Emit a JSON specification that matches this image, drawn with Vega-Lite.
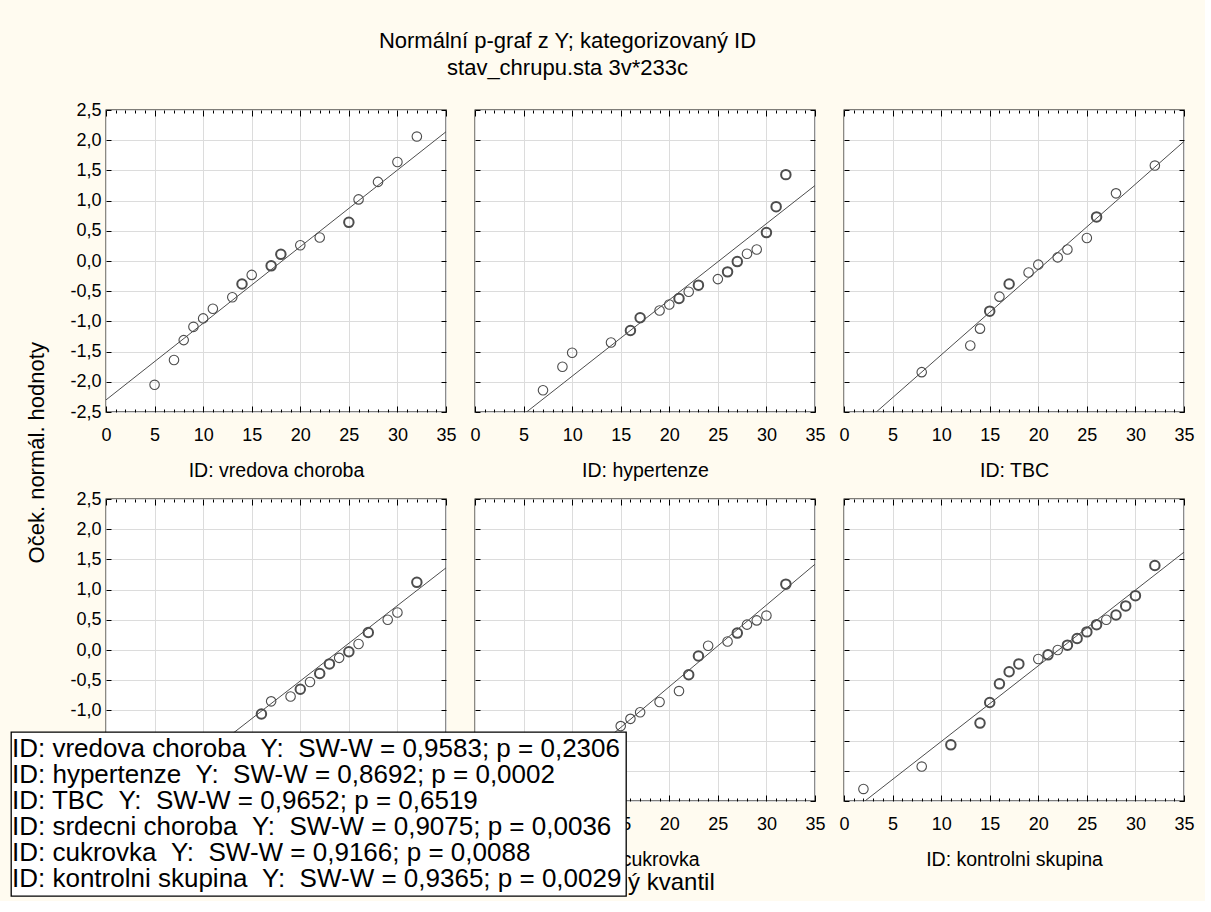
{
  "$schema": "https://vega.github.io/schema/vega-lite/v6.json",
  "background": "#fffbf0",
  "padding": {"left": 10, "top": 30, "right": 10, "bottom": 4},
  "title": {"text": ["Normální p-graf z Y; kategorizovaný ID", "stav_chrupu.sta 3v*233c"], "fontSize": 22, "font": "Liberation Sans", "fontWeight": "normal", "color": "black", "anchor": "middle", "frame": "bounds", "dx": -35, "offset": 20, "lineHeight": 27},
  "datasets": {
    "stats": [
      {"ID": "vredova choroba", "ord": 1, "label": "ID: vredova choroba\u00a0\u00a0Y:\u00a0\u00a0SW-W = 0,9583; p = 0,2306"},
      {"ID": "hypertenze", "ord": 2, "label": "ID: hypertenze\u00a0\u00a0Y:\u00a0\u00a0SW-W = 0,8692; p = 0,0002"},
      {"ID": "TBC", "ord": 3, "label": "ID: TBC\u00a0\u00a0Y:\u00a0\u00a0SW-W = 0,9652; p = 0,6519"},
      {"ID": "srdecni choroba", "ord": 4, "label": "ID: srdecni choroba\u00a0\u00a0Y:\u00a0\u00a0SW-W = 0,9075; p = 0,0036"},
      {"ID": "cukrovka", "ord": 5, "label": "ID: cukrovka\u00a0\u00a0Y:\u00a0\u00a0SW-W = 0,9166; p = 0,0088"},
      {"ID": "kontrolni skupina", "ord": 6, "label": "ID: kontrolni skupina\u00a0\u00a0Y:\u00a0\u00a0SW-W = 0,9365; p = 0,0029"}
    ],
    "all": [
      {"ID": "vredova choroba", "kind": "fit", "x": 0, "y": -2.30},
      {"ID": "vredova choroba", "kind": "fit", "x": 35, "y": 2.14},
      {"ID": "vredova choroba", "kind": "pt", "x": 5, "y": -2.05, "n": 1},
      {"ID": "vredova choroba", "kind": "pt", "x": 7, "y": -1.64, "n": 1},
      {"ID": "vredova choroba", "kind": "pt", "x": 8, "y": -1.31, "n": 1},
      {"ID": "vredova choroba", "kind": "pt", "x": 9, "y": -1.09, "n": 1},
      {"ID": "vredova choroba", "kind": "pt", "x": 10, "y": -0.95, "n": 1},
      {"ID": "vredova choroba", "kind": "pt", "x": 11, "y": -0.79, "n": 1},
      {"ID": "vredova choroba", "kind": "pt", "x": 13, "y": -0.60, "n": 1},
      {"ID": "vredova choroba", "kind": "pt", "x": 14, "y": -0.38, "n": 2},
      {"ID": "vredova choroba", "kind": "pt", "x": 15, "y": -0.23, "n": 1},
      {"ID": "vredova choroba", "kind": "pt", "x": 17, "y": -0.08, "n": 2},
      {"ID": "vredova choroba", "kind": "pt", "x": 18, "y": 0.11, "n": 2},
      {"ID": "vredova choroba", "kind": "pt", "x": 20, "y": 0.26, "n": 1},
      {"ID": "vredova choroba", "kind": "pt", "x": 22, "y": 0.39, "n": 1},
      {"ID": "vredova choroba", "kind": "pt", "x": 25, "y": 0.64, "n": 2},
      {"ID": "vredova choroba", "kind": "pt", "x": 26, "y": 1.02, "n": 1},
      {"ID": "vredova choroba", "kind": "pt", "x": 28, "y": 1.31, "n": 1},
      {"ID": "vredova choroba", "kind": "pt", "x": 30, "y": 1.64, "n": 1},
      {"ID": "vredova choroba", "kind": "pt", "x": 32, "y": 2.06, "n": 1},
      {"ID": "hypertenze", "kind": "fit", "x": 0, "y": -3.17},
      {"ID": "hypertenze", "kind": "fit", "x": 35, "y": 1.25},
      {"ID": "hypertenze", "kind": "pt", "x": 7, "y": -2.14, "n": 1},
      {"ID": "hypertenze", "kind": "pt", "x": 9, "y": -1.75, "n": 1},
      {"ID": "hypertenze", "kind": "pt", "x": 10, "y": -1.52, "n": 1},
      {"ID": "hypertenze", "kind": "pt", "x": 14, "y": -1.35, "n": 1},
      {"ID": "hypertenze", "kind": "pt", "x": 16, "y": -1.15, "n": 2},
      {"ID": "hypertenze", "kind": "pt", "x": 17, "y": -0.94, "n": 2},
      {"ID": "hypertenze", "kind": "pt", "x": 19, "y": -0.82, "n": 1},
      {"ID": "hypertenze", "kind": "pt", "x": 20, "y": -0.72, "n": 1},
      {"ID": "hypertenze", "kind": "pt", "x": 21, "y": -0.62, "n": 2},
      {"ID": "hypertenze", "kind": "pt", "x": 22, "y": -0.51, "n": 1},
      {"ID": "hypertenze", "kind": "pt", "x": 23, "y": -0.40, "n": 2},
      {"ID": "hypertenze", "kind": "pt", "x": 25, "y": -0.30, "n": 1},
      {"ID": "hypertenze", "kind": "pt", "x": 26, "y": -0.18, "n": 2},
      {"ID": "hypertenze", "kind": "pt", "x": 27, "y": -0.01, "n": 2},
      {"ID": "hypertenze", "kind": "pt", "x": 28, "y": 0.12, "n": 1},
      {"ID": "hypertenze", "kind": "pt", "x": 29, "y": 0.19, "n": 1},
      {"ID": "hypertenze", "kind": "pt", "x": 30, "y": 0.47, "n": 2},
      {"ID": "hypertenze", "kind": "pt", "x": 31, "y": 0.90, "n": 2},
      {"ID": "hypertenze", "kind": "pt", "x": 32, "y": 1.43, "n": 2},
      {"ID": "TBC", "kind": "fit", "x": 0, "y": -2.97},
      {"ID": "TBC", "kind": "fit", "x": 35, "y": 1.98},
      {"ID": "TBC", "kind": "pt", "x": 8, "y": -1.84, "n": 1},
      {"ID": "TBC", "kind": "pt", "x": 13, "y": -1.40, "n": 1},
      {"ID": "TBC", "kind": "pt", "x": 14, "y": -1.12, "n": 1},
      {"ID": "TBC", "kind": "pt", "x": 15, "y": -0.83, "n": 2},
      {"ID": "TBC", "kind": "pt", "x": 16, "y": -0.59, "n": 1},
      {"ID": "TBC", "kind": "pt", "x": 17, "y": -0.38, "n": 2},
      {"ID": "TBC", "kind": "pt", "x": 19, "y": -0.19, "n": 1},
      {"ID": "TBC", "kind": "pt", "x": 20, "y": -0.06, "n": 1},
      {"ID": "TBC", "kind": "pt", "x": 22, "y": 0.06, "n": 1},
      {"ID": "TBC", "kind": "pt", "x": 23, "y": 0.19, "n": 1},
      {"ID": "TBC", "kind": "pt", "x": 25, "y": 0.38, "n": 1},
      {"ID": "TBC", "kind": "pt", "x": 26, "y": 0.73, "n": 2},
      {"ID": "TBC", "kind": "pt", "x": 28, "y": 1.12, "n": 1},
      {"ID": "TBC", "kind": "pt", "x": 32, "y": 1.58, "n": 1},
      {"ID": "srdecni choroba", "kind": "fit", "x": 0, "y": -3.01},
      {"ID": "srdecni choroba", "kind": "fit", "x": 35, "y": 1.36},
      {"ID": "srdecni choroba", "kind": "pt", "x": 16, "y": -1.06, "n": 2},
      {"ID": "srdecni choroba", "kind": "pt", "x": 17, "y": -0.85, "n": 1},
      {"ID": "srdecni choroba", "kind": "pt", "x": 19, "y": -0.77, "n": 1},
      {"ID": "srdecni choroba", "kind": "pt", "x": 20, "y": -0.65, "n": 2},
      {"ID": "srdecni choroba", "kind": "pt", "x": 21, "y": -0.53, "n": 1},
      {"ID": "srdecni choroba", "kind": "pt", "x": 22, "y": -0.39, "n": 2},
      {"ID": "srdecni choroba", "kind": "pt", "x": 23, "y": -0.23, "n": 2},
      {"ID": "srdecni choroba", "kind": "pt", "x": 24, "y": -0.13, "n": 1},
      {"ID": "srdecni choroba", "kind": "pt", "x": 25, "y": -0.03, "n": 2},
      {"ID": "srdecni choroba", "kind": "pt", "x": 26, "y": 0.10, "n": 1},
      {"ID": "srdecni choroba", "kind": "pt", "x": 27, "y": 0.29, "n": 2},
      {"ID": "srdecni choroba", "kind": "pt", "x": 29, "y": 0.50, "n": 1},
      {"ID": "srdecni choroba", "kind": "pt", "x": 30, "y": 0.62, "n": 1},
      {"ID": "srdecni choroba", "kind": "pt", "x": 32, "y": 1.12, "n": 2},
      {"ID": "cukrovka", "kind": "fit", "x": 0, "y": -3.31},
      {"ID": "cukrovka", "kind": "fit", "x": 35, "y": 1.42},
      {"ID": "cukrovka", "kind": "pt", "x": 15, "y": -1.26, "n": 1},
      {"ID": "cukrovka", "kind": "pt", "x": 16, "y": -1.14, "n": 1},
      {"ID": "cukrovka", "kind": "pt", "x": 17, "y": -1.03, "n": 1},
      {"ID": "cukrovka", "kind": "pt", "x": 19, "y": -0.86, "n": 1},
      {"ID": "cukrovka", "kind": "pt", "x": 21, "y": -0.68, "n": 1},
      {"ID": "cukrovka", "kind": "pt", "x": 22, "y": -0.41, "n": 2},
      {"ID": "cukrovka", "kind": "pt", "x": 23, "y": -0.10, "n": 2},
      {"ID": "cukrovka", "kind": "pt", "x": 24, "y": 0.07, "n": 1},
      {"ID": "cukrovka", "kind": "pt", "x": 26, "y": 0.14, "n": 1},
      {"ID": "cukrovka", "kind": "pt", "x": 27, "y": 0.28, "n": 2},
      {"ID": "cukrovka", "kind": "pt", "x": 28, "y": 0.42, "n": 1},
      {"ID": "cukrovka", "kind": "pt", "x": 29, "y": 0.49, "n": 1},
      {"ID": "cukrovka", "kind": "pt", "x": 30, "y": 0.57, "n": 1},
      {"ID": "cukrovka", "kind": "pt", "x": 32, "y": 1.09, "n": 2},
      {"ID": "kontrolni skupina", "kind": "fit", "x": 0, "y": -2.77},
      {"ID": "kontrolni skupina", "kind": "fit", "x": 35, "y": 1.62},
      {"ID": "kontrolni skupina", "kind": "pt", "x": 2, "y": -2.30, "n": 1},
      {"ID": "kontrolni skupina", "kind": "pt", "x": 8, "y": -1.93, "n": 1},
      {"ID": "kontrolni skupina", "kind": "pt", "x": 11, "y": -1.57, "n": 2},
      {"ID": "kontrolni skupina", "kind": "pt", "x": 14, "y": -1.21, "n": 2},
      {"ID": "kontrolni skupina", "kind": "pt", "x": 15, "y": -0.87, "n": 2},
      {"ID": "kontrolni skupina", "kind": "pt", "x": 16, "y": -0.56, "n": 2},
      {"ID": "kontrolni skupina", "kind": "pt", "x": 17, "y": -0.36, "n": 2},
      {"ID": "kontrolni skupina", "kind": "pt", "x": 18, "y": -0.23, "n": 2},
      {"ID": "kontrolni skupina", "kind": "pt", "x": 20, "y": -0.15, "n": 1},
      {"ID": "kontrolni skupina", "kind": "pt", "x": 21, "y": -0.08, "n": 2},
      {"ID": "kontrolni skupina", "kind": "pt", "x": 22, "y": 0.00, "n": 1},
      {"ID": "kontrolni skupina", "kind": "pt", "x": 23, "y": 0.08, "n": 2},
      {"ID": "kontrolni skupina", "kind": "pt", "x": 24, "y": 0.19, "n": 2},
      {"ID": "kontrolni skupina", "kind": "pt", "x": 25, "y": 0.30, "n": 2},
      {"ID": "kontrolni skupina", "kind": "pt", "x": 26, "y": 0.42, "n": 2},
      {"ID": "kontrolni skupina", "kind": "pt", "x": 27, "y": 0.50, "n": 1},
      {"ID": "kontrolni skupina", "kind": "pt", "x": 28, "y": 0.58, "n": 2},
      {"ID": "kontrolni skupina", "kind": "pt", "x": 29, "y": 0.73, "n": 2},
      {"ID": "kontrolni skupina", "kind": "pt", "x": 30, "y": 0.90, "n": 2},
      {"ID": "kontrolni skupina", "kind": "pt", "x": 32, "y": 1.40, "n": 2}
    ]
  },
  "data": {"name": "all"},
  "vconcat": [
    {
      "title": {"text": "Oček. normál. hodnoty", "orient": "left", "fontSize": 22, "font": "Liberation Sans", "fontWeight": "normal", "color": "black", "anchor": "middle", "offset": 20, "dx": 45},
      "vconcat": [
        {
          "title": {"text": "Pozorovaný kvantil", "orient": "bottom", "fontSize": 24, "font": "Liberation Sans", "fontWeight": "normal", "color": "black", "anchor": "middle", "offset": 2, "dx": -18},
          "columns": 3,
          "bounds": "flush",
          "spacing": {"column": 29, "row": 87},
          "concat": [
            {
              "width": 340, "height": 302,
              "transform": [{"filter": "datum.ID === 'vredova choroba'"}],
              "layer": [
                {"transform": [{"filter": "datum.kind === 'fit'"}],
                 "mark": {"type": "line", "clip": true, "color": "#4d4d4d", "strokeWidth": 1},
                 "encoding": {
                   "x": {"field": "x", "type": "quantitative", "scale": {"domain": [0, 35], "nice": false, "zero": false},
                         "axis": {"orient": "bottom", "title": "ID: vredova choroba", "titlePadding": 14, "values": [0,1,2,3,4,5,6,7,8,9,10,11,12,13,14,15,16,17,18,19,20,21,22,23,24,25,26,27,28,29,30,31,32,33,34,35], "labelExpr": "datum.value % 5 === 0 ? datum.label : ''", "labelPadding": 20, "tickSize": {"condition": {"test": "datum.value % 5 === 0", "value": -6}, "value": -3}, "grid": true, "gridOpacity": {"condition": {"test": "datum.value % 5 === 0", "value": 1}, "value": 0}}},
                   "y": {"field": "y", "type": "quantitative", "scale": {"domain": [-2.5, 2.5], "nice": false, "zero": false},
                         "axis": {"orient": "left", "title": null, "values": [-2.5,-2,-1.5,-1,-0.5,0,0.5,1,1.5,2,2.5], "labelExpr": "replace(replace(format(datum.value,'.1f'),'.',','),'\u2212','-')", "labelPadding": 10, "tickSize": -5, "grid": true}}
                 }},
                {"transform": [{"filter": "datum.kind === 'pt'"}, {"lookup": "ID", "from": {"data": {"name": "stats"}, "key": "ID", "fields": ["label", "ord"]}}],
                 "mark": {"type": "point", "shape": "circle", "filled": false, "size": 90, "opacity": 1},
                 "encoding": {
                   "x": {"field": "x", "type": "quantitative", "axis": {"orient": "top", "title": null, "labels": false, "grid": false, "values": [0,1,2,3,4,5,6,7,8,9,10,11,12,13,14,15,16,17,18,19,20,21,22,23,24,25,26,27,28,29,30,31,32,33,34,35], "tickSize": {"condition": {"test": "datum.value % 5 === 0", "value": -6}, "value": -3}}},
                   "y": {"field": "y", "type": "quantitative", "axis": {"orient": "right", "title": null, "labels": false, "grid": false, "values": [-2.5,-2,-1.5,-1,-0.5,0,0.5,1,1.5,2,2.5], "tickSize": -5}},
                   "color": {"field": "label", "type": "nominal", "sort": {"field": "ord", "op": "min"}, "scale": {"range": ["#4d4d4d","#4d4d4d","#4d4d4d","#4d4d4d","#4d4d4d","#4d4d4d"]}, "legend": {"title": null}},
                   "strokeWidth": {"field": "n", "type": "quantitative", "scale": {"domain": [1, 2], "range": [1.1, 2]}, "legend": null}
                 }}
              ]
            },
            {
              "width": 340, "height": 302,
              "transform": [{"filter": "datum.ID === 'hypertenze'"}],
              "layer": [
                {"transform": [{"filter": "datum.kind === 'fit'"}],
                 "mark": {"type": "line", "clip": true, "color": "#4d4d4d", "strokeWidth": 1},
                 "encoding": {
                   "x": {"field": "x", "type": "quantitative", "scale": {"domain": [0, 35], "nice": false, "zero": false},
                         "axis": {"orient": "bottom", "title": "ID: hypertenze", "titlePadding": 14, "values": [0,1,2,3,4,5,6,7,8,9,10,11,12,13,14,15,16,17,18,19,20,21,22,23,24,25,26,27,28,29,30,31,32,33,34,35], "labelExpr": "datum.value % 5 === 0 ? datum.label : ''", "labelPadding": 20, "tickSize": {"condition": {"test": "datum.value % 5 === 0", "value": -6}, "value": -3}, "grid": true, "gridOpacity": {"condition": {"test": "datum.value % 5 === 0", "value": 1}, "value": 0}}},
                   "y": {"field": "y", "type": "quantitative", "scale": {"domain": [-2.5, 2.5], "nice": false, "zero": false},
                         "axis": {"orient": "left", "title": null, "labels": false, "values": [-2.5,-2,-1.5,-1,-0.5,0,0.5,1,1.5,2,2.5], "tickSize": -5, "grid": true}}
                 }},
                {"transform": [{"filter": "datum.kind === 'pt'"}, {"lookup": "ID", "from": {"data": {"name": "stats"}, "key": "ID", "fields": ["label", "ord"]}}],
                 "mark": {"type": "point", "shape": "circle", "filled": false, "size": 90, "opacity": 1},
                 "encoding": {
                   "x": {"field": "x", "type": "quantitative", "axis": {"orient": "top", "title": null, "labels": false, "grid": false, "values": [0,1,2,3,4,5,6,7,8,9,10,11,12,13,14,15,16,17,18,19,20,21,22,23,24,25,26,27,28,29,30,31,32,33,34,35], "tickSize": {"condition": {"test": "datum.value % 5 === 0", "value": -6}, "value": -3}}},
                   "y": {"field": "y", "type": "quantitative", "axis": {"orient": "right", "title": null, "labels": false, "grid": false, "values": [-2.5,-2,-1.5,-1,-0.5,0,0.5,1,1.5,2,2.5], "tickSize": -5}},
                   "color": {"field": "label", "type": "nominal", "sort": {"field": "ord", "op": "min"}, "scale": {"range": ["#4d4d4d","#4d4d4d","#4d4d4d","#4d4d4d","#4d4d4d","#4d4d4d"]}, "legend": {"title": null}},
                   "strokeWidth": {"field": "n", "type": "quantitative", "scale": {"domain": [1, 2], "range": [1.1, 2]}, "legend": null}
                 }}
              ]
            },
            {
              "width": 340, "height": 302,
              "transform": [{"filter": "datum.ID === 'TBC'"}],
              "layer": [
                {"transform": [{"filter": "datum.kind === 'fit'"}],
                 "mark": {"type": "line", "clip": true, "color": "#4d4d4d", "strokeWidth": 1},
                 "encoding": {
                   "x": {"field": "x", "type": "quantitative", "scale": {"domain": [0, 35], "nice": false, "zero": false},
                         "axis": {"orient": "bottom", "title": "ID: TBC", "titlePadding": 14, "values": [0,1,2,3,4,5,6,7,8,9,10,11,12,13,14,15,16,17,18,19,20,21,22,23,24,25,26,27,28,29,30,31,32,33,34,35], "labelExpr": "datum.value % 5 === 0 ? datum.label : ''", "labelPadding": 20, "tickSize": {"condition": {"test": "datum.value % 5 === 0", "value": -6}, "value": -3}, "grid": true, "gridOpacity": {"condition": {"test": "datum.value % 5 === 0", "value": 1}, "value": 0}}},
                   "y": {"field": "y", "type": "quantitative", "scale": {"domain": [-2.5, 2.5], "nice": false, "zero": false},
                         "axis": {"orient": "left", "title": null, "labels": false, "values": [-2.5,-2,-1.5,-1,-0.5,0,0.5,1,1.5,2,2.5], "tickSize": -5, "grid": true}}
                 }},
                {"transform": [{"filter": "datum.kind === 'pt'"}, {"lookup": "ID", "from": {"data": {"name": "stats"}, "key": "ID", "fields": ["label", "ord"]}}],
                 "mark": {"type": "point", "shape": "circle", "filled": false, "size": 90, "opacity": 1},
                 "encoding": {
                   "x": {"field": "x", "type": "quantitative", "axis": {"orient": "top", "title": null, "labels": false, "grid": false, "values": [0,1,2,3,4,5,6,7,8,9,10,11,12,13,14,15,16,17,18,19,20,21,22,23,24,25,26,27,28,29,30,31,32,33,34,35], "tickSize": {"condition": {"test": "datum.value % 5 === 0", "value": -6}, "value": -3}}},
                   "y": {"field": "y", "type": "quantitative", "axis": {"orient": "right", "title": null, "labels": false, "grid": false, "values": [-2.5,-2,-1.5,-1,-0.5,0,0.5,1,1.5,2,2.5], "tickSize": -5}},
                   "color": {"field": "label", "type": "nominal", "sort": {"field": "ord", "op": "min"}, "scale": {"range": ["#4d4d4d","#4d4d4d","#4d4d4d","#4d4d4d","#4d4d4d","#4d4d4d"]}, "legend": {"title": null}},
                   "strokeWidth": {"field": "n", "type": "quantitative", "scale": {"domain": [1, 2], "range": [1.1, 2]}, "legend": null}
                 }}
              ]
            },
            {
              "width": 340, "height": 302,
              "transform": [{"filter": "datum.ID === 'srdecni choroba'"}],
              "layer": [
                {"transform": [{"filter": "datum.kind === 'fit'"}],
                 "mark": {"type": "line", "clip": true, "color": "#4d4d4d", "strokeWidth": 1},
                 "encoding": {
                   "x": {"field": "x", "type": "quantitative", "scale": {"domain": [0, 35], "nice": false, "zero": false},
                         "axis": {"orient": "bottom", "title": "ID: srdecni choroba", "titlePadding": 14, "values": [0,1,2,3,4,5,6,7,8,9,10,11,12,13,14,15,16,17,18,19,20,21,22,23,24,25,26,27,28,29,30,31,32,33,34,35], "labelExpr": "datum.value % 5 === 0 ? datum.label : ''", "labelPadding": 20, "tickSize": {"condition": {"test": "datum.value % 5 === 0", "value": -6}, "value": -3}, "grid": true, "gridOpacity": {"condition": {"test": "datum.value % 5 === 0", "value": 1}, "value": 0}}},
                   "y": {"field": "y", "type": "quantitative", "scale": {"domain": [-2.5, 2.5], "nice": false, "zero": false},
                         "axis": {"orient": "left", "title": null, "values": [-2.5,-2,-1.5,-1,-0.5,0,0.5,1,1.5,2,2.5], "labelExpr": "replace(replace(format(datum.value,'.1f'),'.',','),'\u2212','-')", "labelPadding": 10, "tickSize": -5, "grid": true}}
                 }},
                {"transform": [{"filter": "datum.kind === 'pt'"}, {"lookup": "ID", "from": {"data": {"name": "stats"}, "key": "ID", "fields": ["label", "ord"]}}],
                 "mark": {"type": "point", "shape": "circle", "filled": false, "size": 90, "opacity": 1},
                 "encoding": {
                   "x": {"field": "x", "type": "quantitative", "axis": {"orient": "top", "title": null, "labels": false, "grid": false, "values": [0,1,2,3,4,5,6,7,8,9,10,11,12,13,14,15,16,17,18,19,20,21,22,23,24,25,26,27,28,29,30,31,32,33,34,35], "tickSize": {"condition": {"test": "datum.value % 5 === 0", "value": -6}, "value": -3}}},
                   "y": {"field": "y", "type": "quantitative", "axis": {"orient": "right", "title": null, "labels": false, "grid": false, "values": [-2.5,-2,-1.5,-1,-0.5,0,0.5,1,1.5,2,2.5], "tickSize": -5}},
                   "color": {"field": "label", "type": "nominal", "sort": {"field": "ord", "op": "min"}, "scale": {"range": ["#4d4d4d","#4d4d4d","#4d4d4d","#4d4d4d","#4d4d4d","#4d4d4d"]}, "legend": {"title": null}},
                   "strokeWidth": {"field": "n", "type": "quantitative", "scale": {"domain": [1, 2], "range": [1.1, 2]}, "legend": null}
                 }}
              ]
            },
            {
              "width": 340, "height": 302,
              "transform": [{"filter": "datum.ID === 'cukrovka'"}],
              "layer": [
                {"transform": [{"filter": "datum.kind === 'fit'"}],
                 "mark": {"type": "line", "clip": true, "color": "#4d4d4d", "strokeWidth": 1},
                 "encoding": {
                   "x": {"field": "x", "type": "quantitative", "scale": {"domain": [0, 35], "nice": false, "zero": false},
                         "axis": {"orient": "bottom", "title": "ID: cukrovka", "titlePadding": 14, "values": [0,1,2,3,4,5,6,7,8,9,10,11,12,13,14,15,16,17,18,19,20,21,22,23,24,25,26,27,28,29,30,31,32,33,34,35], "labelExpr": "datum.value % 5 === 0 ? datum.label : ''", "labelPadding": 20, "tickSize": {"condition": {"test": "datum.value % 5 === 0", "value": -6}, "value": -3}, "grid": true, "gridOpacity": {"condition": {"test": "datum.value % 5 === 0", "value": 1}, "value": 0}}},
                   "y": {"field": "y", "type": "quantitative", "scale": {"domain": [-2.5, 2.5], "nice": false, "zero": false},
                         "axis": {"orient": "left", "title": null, "labels": false, "values": [-2.5,-2,-1.5,-1,-0.5,0,0.5,1,1.5,2,2.5], "tickSize": -5, "grid": true}}
                 }},
                {"transform": [{"filter": "datum.kind === 'pt'"}, {"lookup": "ID", "from": {"data": {"name": "stats"}, "key": "ID", "fields": ["label", "ord"]}}],
                 "mark": {"type": "point", "shape": "circle", "filled": false, "size": 90, "opacity": 1},
                 "encoding": {
                   "x": {"field": "x", "type": "quantitative", "axis": {"orient": "top", "title": null, "labels": false, "grid": false, "values": [0,1,2,3,4,5,6,7,8,9,10,11,12,13,14,15,16,17,18,19,20,21,22,23,24,25,26,27,28,29,30,31,32,33,34,35], "tickSize": {"condition": {"test": "datum.value % 5 === 0", "value": -6}, "value": -3}}},
                   "y": {"field": "y", "type": "quantitative", "axis": {"orient": "right", "title": null, "labels": false, "grid": false, "values": [-2.5,-2,-1.5,-1,-0.5,0,0.5,1,1.5,2,2.5], "tickSize": -5}},
                   "color": {"field": "label", "type": "nominal", "sort": {"field": "ord", "op": "min"}, "scale": {"range": ["#4d4d4d","#4d4d4d","#4d4d4d","#4d4d4d","#4d4d4d","#4d4d4d"]}, "legend": {"title": null}},
                   "strokeWidth": {"field": "n", "type": "quantitative", "scale": {"domain": [1, 2], "range": [1.1, 2]}, "legend": null}
                 }}
              ]
            },
            {
              "width": 340, "height": 302,
              "transform": [{"filter": "datum.ID === 'kontrolni skupina'"}],
              "layer": [
                {"transform": [{"filter": "datum.kind === 'fit'"}],
                 "mark": {"type": "line", "clip": true, "color": "#4d4d4d", "strokeWidth": 1},
                 "encoding": {
                   "x": {"field": "x", "type": "quantitative", "scale": {"domain": [0, 35], "nice": false, "zero": false},
                         "axis": {"orient": "bottom", "title": "ID: kontrolni skupina", "titlePadding": 14, "values": [0,1,2,3,4,5,6,7,8,9,10,11,12,13,14,15,16,17,18,19,20,21,22,23,24,25,26,27,28,29,30,31,32,33,34,35], "labelExpr": "datum.value % 5 === 0 ? datum.label : ''", "labelPadding": 20, "tickSize": {"condition": {"test": "datum.value % 5 === 0", "value": -6}, "value": -3}, "grid": true, "gridOpacity": {"condition": {"test": "datum.value % 5 === 0", "value": 1}, "value": 0}}},
                   "y": {"field": "y", "type": "quantitative", "scale": {"domain": [-2.5, 2.5], "nice": false, "zero": false},
                         "axis": {"orient": "left", "title": null, "labels": false, "values": [-2.5,-2,-1.5,-1,-0.5,0,0.5,1,1.5,2,2.5], "tickSize": -5, "grid": true}}
                 }},
                {"transform": [{"filter": "datum.kind === 'pt'"}, {"lookup": "ID", "from": {"data": {"name": "stats"}, "key": "ID", "fields": ["label", "ord"]}}],
                 "mark": {"type": "point", "shape": "circle", "filled": false, "size": 90, "opacity": 1},
                 "encoding": {
                   "x": {"field": "x", "type": "quantitative", "axis": {"orient": "top", "title": null, "labels": false, "grid": false, "values": [0,1,2,3,4,5,6,7,8,9,10,11,12,13,14,15,16,17,18,19,20,21,22,23,24,25,26,27,28,29,30,31,32,33,34,35], "tickSize": {"condition": {"test": "datum.value % 5 === 0", "value": -6}, "value": -3}}},
                   "y": {"field": "y", "type": "quantitative", "axis": {"orient": "right", "title": null, "labels": false, "grid": false, "values": [-2.5,-2,-1.5,-1,-0.5,0,0.5,1,1.5,2,2.5], "tickSize": -5}},
                   "color": {"field": "label", "type": "nominal", "sort": {"field": "ord", "op": "min"}, "scale": {"range": ["#4d4d4d","#4d4d4d","#4d4d4d","#4d4d4d","#4d4d4d","#4d4d4d"]}, "legend": {"title": null}},
                   "strokeWidth": {"field": "n", "type": "quantitative", "scale": {"domain": [1, 2], "range": [1.1, 2]}, "legend": null}
                 }}
              ]
            }
          ]
        }
      ]
    }
  ],
  "config": {
    "font": "Liberation Sans",
    "view": {"stroke": "black", "strokeWidth": 1.3, "fill": "white"},
    "axis": {"labelFont": "Liberation Sans", "labelFontSize": 18, "labelColor": "black", "titleFont": "Liberation Sans", "titleFontSize": 19.5, "titleFontWeight": "normal", "titleColor": "black", "domain": false, "tickColor": "black", "tickWidth": 1, "gridColor": "#dcdcdc", "gridWidth": 1, "labelFlush": false, "labelOverlap": false, "labelBound": false},
    "legend": {"orient": "none", "legendX": -95, "legendY": 622, "fillColor": "white", "strokeColor": "black", "strokeWidth": 1.3, "padding": 4, "cornerRadius": 0, "labelFont": "Liberation Sans", "labelFontSize": 26, "labelColor": "black", "labelLimit": 900, "symbolSize": 0, "symbolStrokeWidth": 0, "symbolOpacity": 0, "labelOffset": -29, "rowPadding": -0.5, "zindex": 1}
  }
}
